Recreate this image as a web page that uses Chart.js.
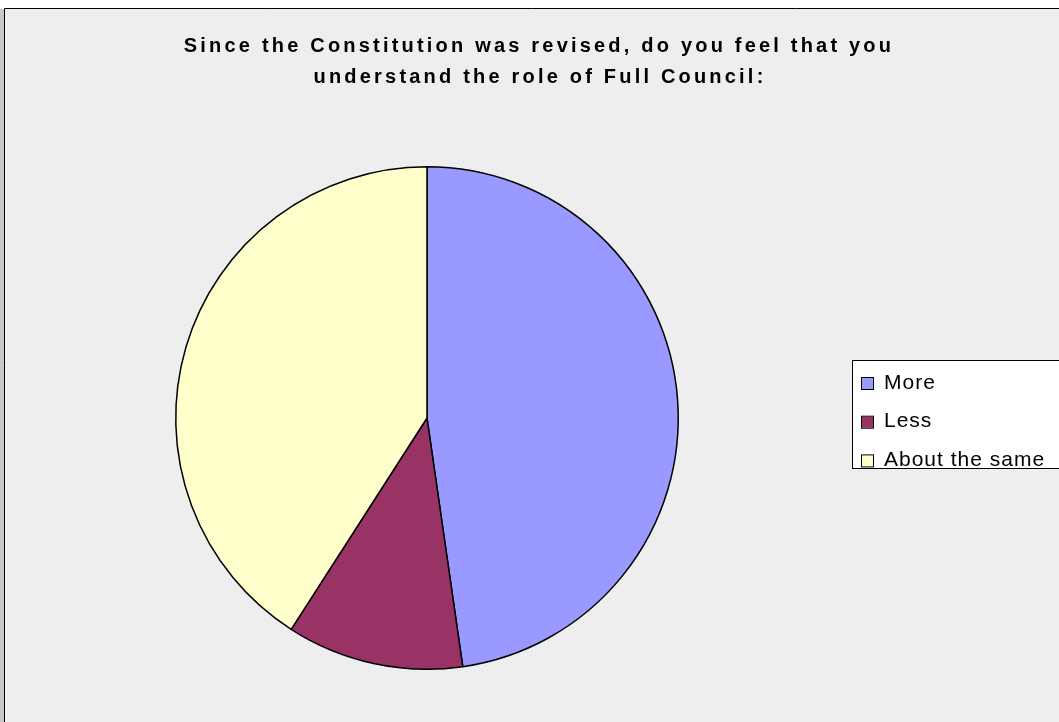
<!DOCTYPE html>
<html>
<head>
<meta charset="utf-8">
<script src="https://cdn.jsdelivr.net/npm/chart.js@4"></script>
<style>
  html, body { margin: 0; padding: 0; background: #ffffff; }
  #wrap { position: absolute; left: 0; top: 0; width: 1059px; height: 722px; }
</style>
</head>
<body>
<div id="wrap"><canvas id="mycanvas" width="1059" height="722"></canvas></div>
<script>
var titleLines = ["Since the Constitution was revised, do you feel that you", "understand the role of Full Council:"];
var answers = ["More", "Less", "About the same"];
var responses = [42, 10, 36];
var sliceColors = ["#9999FF", "#993366", "#FFFFCC"];

// frame, background and title
var framePlugin = {
	id: 'frame',
	beforeDraw: function(chart) {
		var c = chart.ctx;
		c.save();
		c.fillStyle = "#ffffff";
		c.fillRect(0, 0, chart.width, chart.height);
		c.fillStyle = "#c8c8c8";
		c.fillRect(0, 9, 4, chart.height);
		c.fillStyle = "#EEEEEE";
		c.fillRect(5, 9, chart.width, chart.height);
		c.strokeStyle = "#000000";
		c.lineWidth = 1;
		c.beginPath();
		c.moveTo(4.5, chart.height);
		c.lineTo(4.5, 8.5);
		c.lineTo(chart.width, 8.5);
		c.stroke();

		c.fillStyle = "#000000";
		c.font = "bold 20px 'Liberation Sans', Arial, sans-serif";
		c.letterSpacing = "3.2px";
		c.textAlign = "center";
		c.textBaseline = "middle";
		c.fillText(titleLines[0], 539, 46);
		c.fillText(titleLines[1], 540, 77);
		c.restore();
	}
};

// boxed legend on the right
var legendPlugin = {
	id: 'boxLegend',
	afterDraw: function(chart) {
		var c = chart.ctx;
		var ds = chart.data.datasets[0];
		c.save();
		c.fillStyle = "#ffffff";
		c.fillRect(853, 361, 220, 108);
		c.strokeStyle = "#000000";
		c.lineWidth = 1;
		c.strokeRect(852.5, 360.5, 220, 108);
		c.font = "21px 'Liberation Sans', Arial, sans-serif";
		c.letterSpacing = "1px";
		c.textBaseline = "middle";
		c.textAlign = "left";
		for (var i = 0; i < chart.data.labels.length; i++) {
			var y = 383 + i * 38.7;
			c.fillStyle = ds.backgroundColor[i];
			c.fillRect(862, y - 5, 11, 11);
			c.strokeRect(861.5, y - 5.5, 12, 12);
			c.fillStyle = "#000000";
			c.fillText(chart.data.labels[i], 884, y);
		}
		c.restore();
	}
};

var ctx = document.getElementById("mycanvas");

var pieChart = new Chart(ctx, {
	type: 'pie',
	data: {
		labels: answers,
		datasets: [
			{
				data: responses,
				backgroundColor: sliceColors,
				borderColor: "#000000",
				borderWidth: 1.5
			}
		]
	},
	options: {
		responsive: false,
		animation: false,
		layout: {
			padding: { left: 175, right: 380, top: 166, bottom: 52 }
		},
		plugins: {
			legend: { display: false },
			title: { display: false },
			tooltip: { enabled: false }
		}
	},
	plugins: [framePlugin, legendPlugin]
});
</script>
</body>
</html>
